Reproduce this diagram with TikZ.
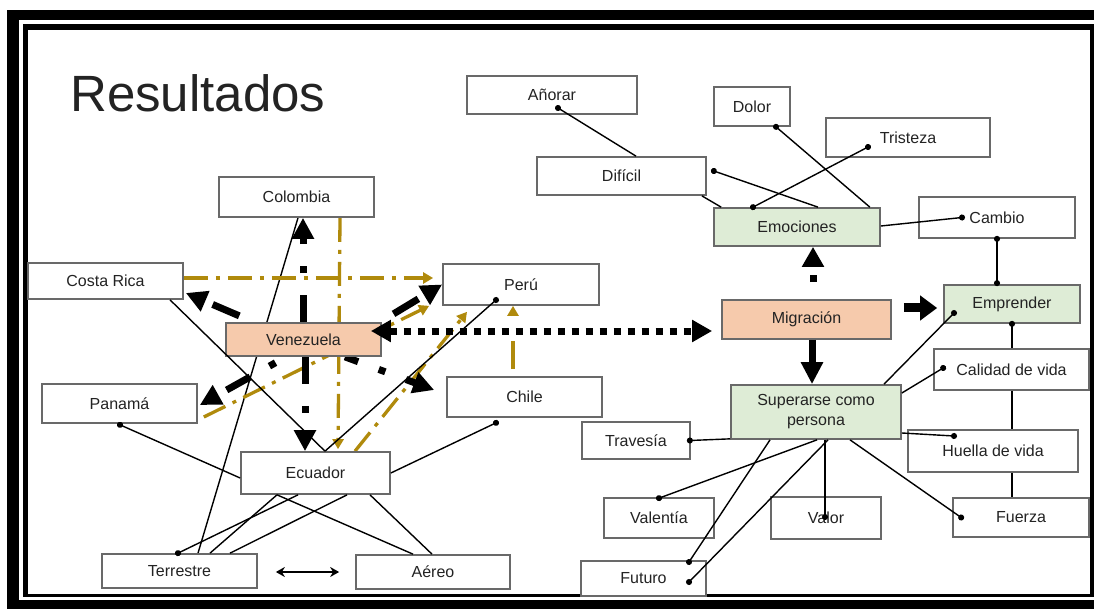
\documentclass[tikz,border=0pt]{standalone}
\usepackage{fontspec}
\setmainfont{Liberation Sans}
\usetikzlibrary{arrows.meta}
\pgfdeclarelayer{framelayer}
\pgfdeclarelayer{bg}
\pgfsetlayers{framelayer,bg,main}
\definecolor{gold}{RGB}{176,138,12}
\definecolor{peach}{RGB}{246,202,172}
\definecolor{lgreen}{RGB}{222,236,214}
\definecolor{boxline}{RGB}{105,105,105}
\definecolor{txt}{RGB}{35,35,35}
\begin{document}
\begin{tikzpicture}[x=1pt,y=-1pt,
  box/.style={draw=boxline, line width=1.7pt, fill=white, text=txt,
    font=\fontsize{16}{20}\selectfont, inner sep=0pt, align=center},
  orange/.style={box, fill=peach},
  green/.style={box, fill=lgreen},
  thinln/.style={draw=black, line width=1.4pt},
  dotstart/.style={{Circle[length=6pt]}-, shorten <=-3pt},
  dotend/.style={-{Circle[length=6pt]}, shorten >=-3pt},
  dotboth/.style={{Circle[length=6pt]}-{Circle[length=6pt]}, shorten <=-3pt, shorten >=-3pt},
  bigdashdot/.style={draw=black, line width=7pt, dash pattern=on 27pt off 22pt on 7pt off 22pt,
    -{Triangle[length=21pt,width=21pt]}},
  bigdash/.style={draw=black, line width=7pt, dash pattern=on 29pt off 16pt, dash phase=29pt,
    -{Triangle[length=21pt,width=21pt]}},
  bigdotted/.style={draw=black, line width=7pt, dash pattern=on 7pt off 7pt,
    {Triangle[length=20pt,width=21pt]}-{Triangle[length=20pt,width=21pt]}},
  bigup/.style={draw=black, line width=7pt, dash pattern=on 7pt off 17pt, dash phase=7pt,
    -{Triangle[length=20pt,width=21pt]}},
  bigsolid/.style={draw=black, line width=7pt, -{Triangle[length=22pt,width=21pt]}},
  bigsolidb/.style={draw=black, line width=9pt, -{Triangle[length=17pt,width=24pt]}},
  goldln/.style={draw=gold, line width=3.3pt, dash pattern=on 24pt off 8pt on 4pt off 8pt,
    -{Triangle[length=10pt,width=11pt]}},
  golddash/.style={draw=gold, line width=3.3pt, dash pattern=on 28pt off 25pt, dash phase=46pt,
    -{Triangle[length=10pt,width=11pt]}},
  dblarrow/.style={draw=black, line width=2.2pt,
    {Stealth[length=9pt,width=10pt]}-{Stealth[length=9pt,width=10pt]}}
]
\useasboundingbox (0,0) rectangle (1094,609);
% frame
\begin{pgfonlayer}{framelayer}
\fill[black] (7,10) rectangle (1100,615);
\draw[white, line width=3.5pt] (21,22) rectangle (1100,598.5);
\fill[white] (28,30) rectangle (1090,594);
\end{pgfonlayer}

\node[anchor=base west, text=txt, font=\fontsize{51}{60}\selectfont, inner sep=0pt] (title) at (70,112) {Resultados};

% left cluster nodes
\node[box, minimum width=155pt, minimum height=40pt] (col) at (296.5,197) {Colombia};
\node[box, minimum width=155pt, minimum height=36pt] (cr) at (105.5,281) {Costa Rica};
\node[orange, minimum width=155pt, minimum height=33pt] (ven) at (303.5,339.5) {Venezuela};
\node[box, minimum width=155pt, minimum height=39pt] (pa) at (119.5,403.5) {Panamá};
\node[box, minimum width=156pt, minimum height=41pt] (pe) at (521,284.5) {Perú};
\node[box, minimum width=155pt, minimum height=40pt] (ch) at (524.5,397) {Chile};
\node[box, minimum width=149pt, minimum height=42pt] (ec) at (315.5,473) {Ecuador};
\node[box, minimum width=155pt, minimum height=34pt] (ter) at (179.5,571) {Terrestre};
\node[box, minimum width=154pt, minimum height=34pt] (ae) at (433,572) {Aéreo};

% right cluster nodes
\node[box, minimum width=170pt, minimum height=38pt] (ano) at (552,95) {Añorar};
\node[box, minimum width=169pt, minimum height=38pt] (dif) at (621.5,176) {Difícil};
\node[box, minimum width=76pt, minimum height=39pt] (dol) at (752,106.5) {Dolor};
\node[box, minimum width=164pt, minimum height=39pt] (tri) at (908,137.5) {Tristeza};
\node[green, minimum width=166pt, minimum height=38pt] (emo) at (797,227) {Emociones};
\node[box, minimum width=156pt, minimum height=41pt] (cam) at (997,217.5) {Cambio};
\node[green, minimum width=136pt, minimum height=38pt] (emp) at (1012,304) {Emprender};
\node[orange, minimum width=169pt, minimum height=39pt] (mig) at (806.5,319.5) {Migración};
\node[green, minimum width=170pt, minimum height=54pt] (sup) at (816,412) {Superarse como\\persona};
\node[box, minimum width=155pt, minimum height=41pt] (cal) at (1011.5,369.5) {Calidad de vida};
\node[box, minimum width=170pt, minimum height=42pt] (hue) at (993,451) {Huella de vida};
\node[box, minimum width=136pt, minimum height=39pt] (fue) at (1021,517.5) {Fuerza};
\node[box, minimum width=108pt, minimum height=37pt] (tra) at (636,440.5) {Travesía};
\node[box, minimum width=110pt, minimum height=40pt] (vln) at (659,518) {Valentía};
\node[box, minimum width=110pt, minimum height=42pt] (vlr) at (826,518) {Valor};
\node[box, minimum width=125pt, minimum height=35pt] (fut) at (643.5,578.5) {Futuro};

% connectors behind the boxes
\begin{pgfonlayer}{bg}
\draw[thinln] ([xshift=1.5pt]col.south) -- ([xshift=18.5pt]ter.north);
\draw[goldln] ([yshift=3pt]cr.east) -- ([xshift=-9pt,yshift=6.5pt]pe.west);
\draw[goldln] ([xshift=43.5pt]col.south) -- ([xshift=22.5pt,yshift=2pt]ec.north);
\draw[goldln] ([xshift=6pt,yshift=-13.5pt]pa.east) -- ([xshift=-13pt]pe.south west);
\draw[goldln] ([xshift=39.5pt]ec.north) -- ([xshift=-54pt,yshift=-6pt]pe.south);
\draw[golddash] ([xshift=-11.5pt]ch.north) -- ([xshift=-8pt]pe.south);
\draw[bigdashdot] ([xshift=-0.5pt]ven.north) -- ([xshift=6.5pt]col.south);
\draw[bigdashdot] ([xshift=1.5pt]ven.south) -- ([xshift=-10.5pt]ec.north);
\draw[bigdash] ([xshift=-49.5pt]ven.north) -- ([xshift=2pt,yshift=-12pt]cr.east);
\draw[bigdashdot, dash phase=37pt] ([xshift=-17.5pt]ven.south) -- ([xshift=2pt,yshift=-1.5pt]pa.east);
\draw[bigdashdot, dash phase=13pt] ([xshift=41.5pt]ven.south) -- ([xshift=-12pt,yshift=7pt]ch.west);
\draw[bigdash] ([xshift=-2pt]ven.north east) -- (pe.west);
\end{pgfonlayer}

% left thin connectors
\draw[thinln] ([xshift=64.5pt]cr.south) -- ([xshift=9.5pt]ec.north);
\draw[thinln, dotstart] ([xshift=-25pt,yshift=-15.5pt]pe.center) -- ([xshift=9.5pt]ec.north);
\draw[thinln, dotstart] ([xshift=0.5pt,yshift=-1pt]pa.south) -- ([yshift=-5pt]ec.west);
\draw[thinln, dotstart] ([xshift=-28.5pt,yshift=-5pt]ch.south) -- (ec.east);
\draw[thinln] ([xshift=-38.5pt]ec.south) -- ([xshift=30.5pt]ter.north);
\draw[thinln] ([xshift=-38.5pt]ec.south) -- ([xshift=-20pt]ae.north);
\draw[thinln, dotend] ([xshift=-17.5pt]ec.south) -- ([xshift=-1.5pt]ter.north);
\draw[thinln] ([xshift=31.5pt]ec.south) -- ([xshift=50.5pt]ter.north);
\draw[thinln] ([xshift=54.5pt]ec.south) -- ([xshift=-1pt]ae.north);
\draw[dblarrow] ([xshift=18pt,yshift=-1pt]ter.east) -- ([xshift=-16pt]ae.west);

% thick arrows around Migración
\draw[bigdotted] ([xshift=-11pt,yshift=8.5pt]ven.east) -- ([xshift=-9pt,yshift=-11.5pt]mig.west);
\draw[bigup] ([xshift=6.5pt]mig.north) -- ([xshift=16pt]emo.south);
\draw[bigsolid] ([xshift=5.5pt]mig.south) -- ([xshift=-4pt]sup.north);
\draw[bigsolidb] ([xshift=12pt,yshift=11.5pt]mig.east) -- ([xshift=-6pt,yshift=-4pt]emp.west);

% right thin connectors
\draw[thinln, dotstart] ([xshift=6pt,yshift=-13pt]ano.center) -- ([xshift=14.5pt]dif.north);
\draw[thinln] ([xshift=-5pt]dif.south east) -- ([xshift=8pt]emo.north west);
\draw[thinln, dotstart] ([xshift=7pt,yshift=5pt]dif.east) -- ([xshift=21pt]emo.north);
\draw[thinln, dotstart] ([xshift=24pt]dol.south) -- ([xshift=-11pt]emo.north east);
\draw[thinln, dotboth] ([xshift=-44pt]emo.north) -- ([xshift=-40pt,yshift=-9.5pt]tri.center);
\draw[thinln, dotend] ([yshift=1pt]emo.east) -- ([xshift=-35pt]cam.center);
\draw[thinln, dotboth] (cam.south) -- ([xshift=-15pt,yshift=1pt]emp.north);
\draw[thinln, dotend] ([xshift=68pt]sup.north) -- ([xshift=-58pt,yshift=-9pt]emp.center);
\draw[thinln, dotstart] (emp.south) -- ([xshift=0.5pt]cal.north);
\draw[thinln] ([xshift=0.5pt]cal.south) -- ([xshift=19pt]hue.north);
\draw[thinln] ([xshift=19pt]hue.south) -- ([xshift=-9pt]fue.north);
\draw[thinln, dotend] ([yshift=19pt]sup.east) -- ([xshift=10pt,yshift=1.5pt]cal.west);
\draw[thinln, dotend] ([yshift=-21pt]sup.east) -- ([xshift=-39pt,yshift=15pt]hue.center);
\draw[thinln, dotstart] ([xshift=-1pt]tra.east) -- ([yshift=1pt]sup.south west);
\draw[thinln, dotend] ([xshift=1pt]sup.south) -- ([yshift=-1pt]vln.north);
\draw[thinln, dotend] ([xshift=-46pt]sup.south) -- ([xshift=45.5pt,yshift=16.5pt]fut.center);
\draw[thinln, dotend] ([xshift=12pt]sup.south) -- ([xshift=45.5pt,yshift=-3.5pt]fut.center);
\draw[thinln, dotend] ([xshift=9pt]sup.south) -- ([xshift=-1pt,yshift=1pt]vlr.center);
\draw[thinln, dotend] ([xshift=34pt]sup.south) -- ([xshift=9pt]fue.west);
\end{tikzpicture}
\end{document}
